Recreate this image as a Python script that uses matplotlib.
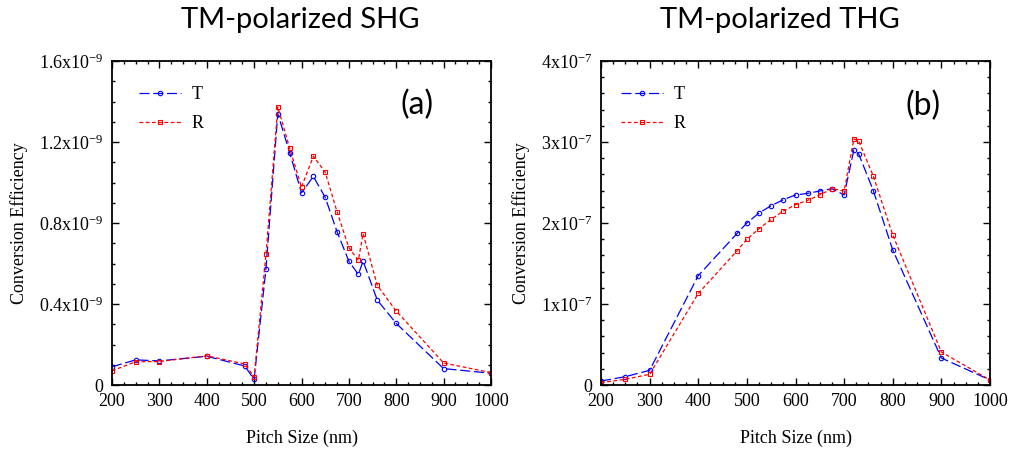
import numpy as np
import matplotlib
matplotlib.use("Agg")
import matplotlib.pyplot as plt
from matplotlib.ticker import MultipleLocator, FuncFormatter

plt.rcParams['font.family'] = 'Liberation Serif'
plt.rcParams['mathtext.fontset'] = 'custom'
plt.rcParams['mathtext.rm'] = 'Liberation Serif'

# SHG, units of 1e-9
shg_x = [200, 250, 300, 400, 480, 500, 525, 550, 575, 600, 625, 650, 675, 700, 720, 730, 760, 800, 900, 1000]
shg_T = [0.09, 0.124, 0.119, 0.142, 0.094, 0.028, 0.574, 1.34, 1.147, 0.949, 1.03, 0.927, 0.757, 0.611,
         0.546, 0.612, 0.419, 0.304, 0.081, 0.058]
shg_R = [0.07, 0.115, 0.116, 0.144, 0.104, 0.041, 0.645, 1.373, 1.17, 0.977, 1.13, 1.051, 0.856, 0.678,
         0.616, 0.748, 0.492, 0.365, 0.109, 0.061]

# THG, units of 1e-7
thg_x = [200, 250, 300, 400, 480, 500, 525, 550, 575, 600, 625, 650, 675, 700, 720, 730, 760, 800, 900, 1000]
thg_T = [0.049, 0.103, 0.181, 1.35, 1.872, 2.0, 2.123, 2.214, 2.288, 2.346, 2.366, 2.395, 2.424, 2.346,
         2.9, 2.852, 2.4, 1.667, 0.333, 0.062]
thg_R = [0.029, 0.07, 0.132, 1.13, 1.658, 1.798, 1.93, 2.045, 2.148, 2.226, 2.28, 2.346, 2.424, 2.395,
         3.037, 3.012, 2.58, 1.852, 0.407, 0.062]

fig = plt.figure(figsize=(10.1, 4.51), dpi=100)
ax1 = fig.add_axes([112/1010, 66/451, 379/1010, 324/451])
ax2 = fig.add_axes([601/1010, 66/451, 389/1010, 324/451])


def sci_fmt(exp):
    def f(v, pos):
        if abs(v) < 1e-9:
            return '0'
        s = ('%g' % v)
        return r'$\mathregular{%sx10^{%d}}$' % (s, exp)
    return f


def style(ax, ymax, ymajor, yminor, exp):
    ax.set_xlim(200, 1000)
    ax.set_ylim(0, ymax)
    ax.xaxis.set_major_locator(MultipleLocator(100))
    ax.xaxis.set_minor_locator(MultipleLocator(25))
    ax.yaxis.set_major_locator(MultipleLocator(ymajor))
    ax.yaxis.set_minor_locator(MultipleLocator(yminor))
    ax.yaxis.set_major_formatter(FuncFormatter(sci_fmt(exp)))
    ax.tick_params(which='both', direction='in', top=True, right=True, labelsize=13, width=1)
    ax.tick_params(which='major', length=5, pad=6)
    ax.tick_params(which='minor', length=2.5)
    for s in ax.spines.values():
        s.set_linewidth(1.3)
    ax.set_xlabel('Pitch Size (nm)', fontsize=13, labelpad=14)
    ax.set_ylabel('Conversion Efficiency', fontsize=13, labelpad=8)


def draw(ax, x, T, R, lx):
    ax.plot(x, T, color='blue', lw=0.9, ls=(0, (8, 3)), marker='o', ms=3.2,
            mfc='none', mew=0.8, label='T')
    ax.plot(x, R, color='red', lw=0.9, ls=(0, (3, 2)), marker='s', ms=3.4,
            mfc='none', mew=0.8, label='R')
    ax.legend(loc='upper left', frameon=False, fontsize=13, handlelength=2.3,
              labelspacing=0.65, bbox_to_anchor=(lx, 0.972), handletextpad=0.6)


draw(ax1, shg_x, shg_T, shg_R, 0.029)
style(ax1, 1.6, 0.4, 0.1, -9)
ax1.text(0.805, 0.864, '(a)', transform=ax1.transAxes, ha='center', va='center',
         fontsize=23, family='Lato')

draw(ax2, thg_x, thg_T, thg_R, 0.01)
style(ax2, 4, 1, 0.2, -7)
ax2.text(0.828, 0.86, '(b)', transform=ax2.transAxes, ha='center', va='center',
         fontsize=23, family='Lato')

fig.text(300/1010, 1 - 20/451, 'TM-polarized SHG', ha='center', va='center',
         fontsize=21, family='Lato')
fig.text(780/1010, 1 - 20/451, 'TM-polarized THG', ha='center', va='center',
         fontsize=21, family='Lato')

fig.savefig('out.png', dpi=100)
